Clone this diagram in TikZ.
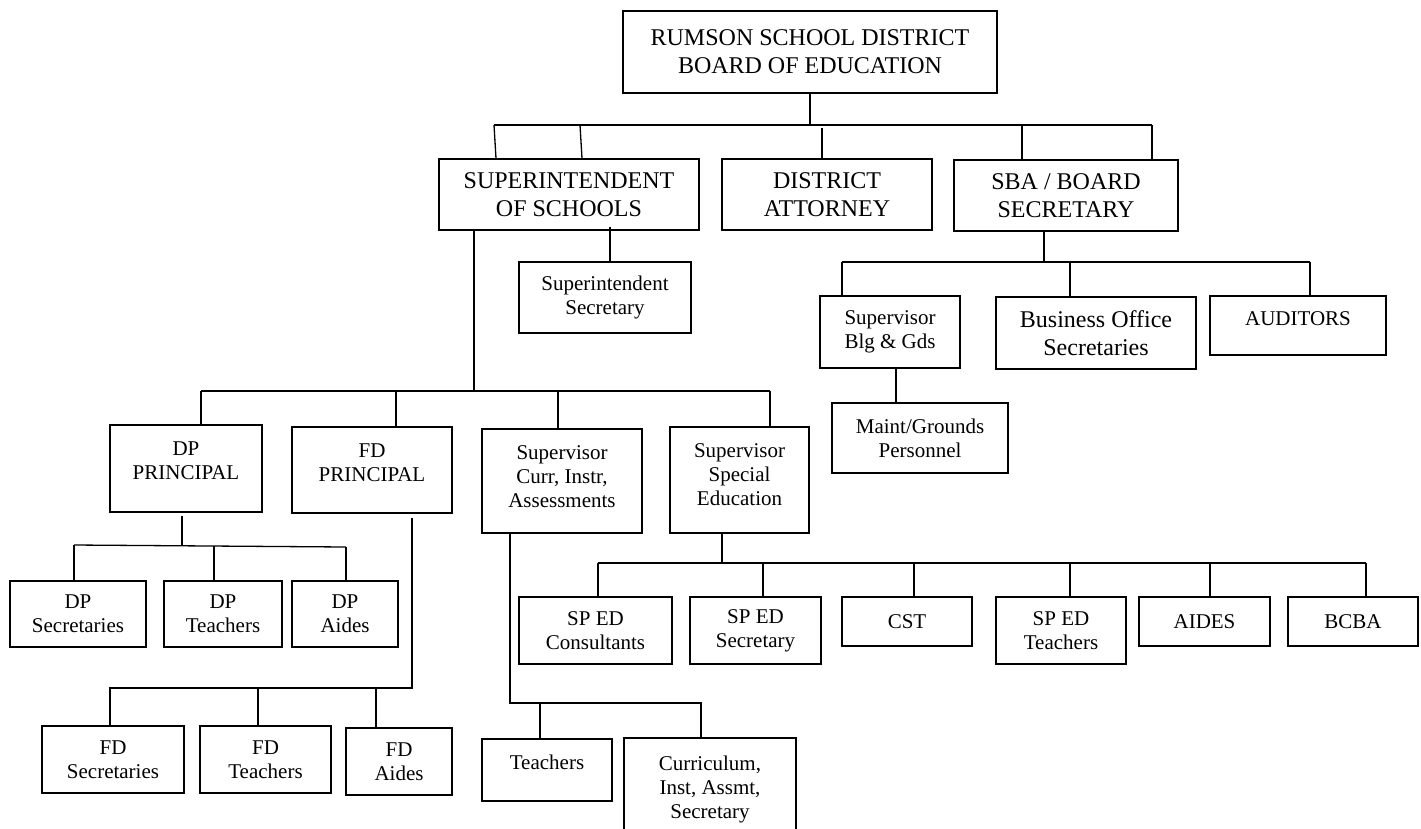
\documentclass[tikz,border=0pt]{standalone}
\usepackage{fontspec}
\setmainfont{Liberation Serif}
\begin{document}
\begin{tikzpicture}[x=1pt,y=-1pt,
  box/.style={draw, line width=1.4pt, inner sep=0pt, align=center},
  big/.style={font=\fontsize{24}{28}\selectfont},
  sm/.style={font=\fontsize{21}{24}\selectfont},
  lbl/.style={align=center, inner sep=0pt},
  link/.style={line width=1.3pt}]
\clip (0,0) rectangle (1421,828);
\fill[white] (0,0) rectangle (1421,828);

% ---------- boxes ----------
\node[box,big,minimum width=374pt,minimum height=82pt] (board) at (810,52) {RUMSON SCHOOL DISTRICT\\BOARD OF EDUCATION};
\node[box,big,minimum width=260pt,minimum height=71pt] (supt) at (569,194.5) {SUPERINTENDENT\\OF SCHOOLS};
\node[box,big,minimum width=210pt,minimum height=71pt] (atty) at (827,194.5) {DISTRICT\\ATTORNEY};
\node[box,big,minimum width=224pt,minimum height=71pt] (sba) at (1066,195.5) {SBA / BOARD\\SECRETARY};
\node[box,sm,minimum width=172pt,minimum height=71pt] (ssec) at (605,297.5) {Superintendent\\Secretary};
\node[box,sm,minimum width=140pt,minimum height=72pt] (blg) at (890,332) {Supervisor\\Blg \& Gds};
\node[box,big,minimum width=200pt,minimum height=72pt] (bus) at (1096,333) {Business Office\\Secretaries};
\node[box,minimum width=176pt,minimum height=59pt,label={[lbl,sm,yshift=6.5pt]center:AUDITORS}] (aud) at (1298,325.5) {};
\node[box,sm,minimum width=176pt,minimum height=70pt] (maint) at (920,438) {Maint/Grounds\\Personnel};
\node[box,minimum width=152pt,minimum height=87pt,label={[lbl,sm,yshift=7.5pt]center:{DP\\PRINCIPAL}}] (dpp) at (186,468.5) {};
\node[box,minimum width=160pt,minimum height=86pt,label={[lbl,sm,yshift=7.5pt]center:{FD\\PRINCIPAL}}] (fdp) at (372,470) {};
\node[box,minimum width=160pt,minimum height=104pt,label={[lbl,sm,yshift=4.5pt]center:{Supervisor\\Curr, Instr,\\Assessments}}] (curr) at (562,481) {};
\node[box,minimum width=139pt,minimum height=106pt,label={[lbl,sm,yshift=5.5pt]center:{Supervisor\\Special\\Education}}] (spec) at (739.5,480) {};
\node[box,sm,minimum width=136pt,minimum height=66pt] (dpsec) at (78,614) {DP\\Secretaries};
\node[box,sm,minimum width=118pt,minimum height=66pt] (dptea) at (223,614) {DP\\Teachers};
\node[box,sm,minimum width=106pt,minimum height=66pt] (dpaid) at (345,614) {DP\\Aides};
\node[box,sm,minimum width=142pt,minimum height=67pt] (fdsec) at (113,759.5) {FD\\Secretaries};
\node[box,sm,minimum width=131pt,minimum height=67pt] (fdtea) at (265.5,759.5) {FD\\Teachers};
\node[box,sm,minimum width=106pt,minimum height=67pt] (fdaid) at (399,761.5) {FD\\Aides};
\node[box,minimum width=130pt,minimum height=62pt,label={[lbl,sm,yshift=7.5pt]center:Teachers}] (tea) at (547,770) {};
\node[box,sm,minimum width=172pt,minimum height=103pt] (cias) at (710,789.5) {Curriculum,\\Inst, Assmt,\\Secretary};
\node[box,sm,minimum width=153pt,minimum height=67pt] (spcon) at (595.5,630.5) {SP ED\\Consultants};
\node[box,sm,minimum width=131pt,minimum height=67pt] (spsec) at (755.5,630.5) {SP ED\\Secretary};
\node[box,sm,minimum width=130pt,minimum height=49pt] (cst) at (907,621.5) {CST};
\node[box,sm,minimum width=130pt,minimum height=67pt] (sptea) at (1061,630.5) {SP ED\\Teachers};
\node[box,sm,minimum width=131pt,minimum height=49pt] (aides) at (1204.5,621.5) {AIDES};
\node[box,sm,minimum width=130pt,minimum height=49pt] (bcba) at (1353,621.5) {BCBA};

% ---------- board level ----------
\coordinate (j1) at (810,125);
\coordinate (j1L) at (494,125);
\coordinate (j1R) at (1152,125);
\coordinate (d1) at (580,125);
\coordinate (d2) at (822,128);
\coordinate (d3) at (1022,125);
\draw[link] (board.south) -- (j1);
\draw[link] (j1L) -- (j1R);
\draw[link] (j1L) -- ([xshift=2pt]j1L |- supt.north);
\draw[link] (d1) -- ([xshift=2pt]d1 |- supt.north);
\draw[link] (d2) -- (d2 |- atty.north);
\draw[link] (d3) -- (d3 |- sba.north);
\draw[link] (j1R) -- (j1R |- sba.north);

% ---------- superintendent ----------
\coordinate (j2) at (474,391);
\coordinate (j2L) at (201,391);
\coordinate (j2R) at (770,391);
\coordinate (e1) at (396,391);
\coordinate (e2) at (558,391);
\coordinate (k1) at (610,227);
\draw[link] (j2 |- supt.south) -- (j2);
\draw[link] (j2L) -- (j2R);
\draw[link] (j2L) -- (j2L |- dpp.north);
\draw[link] (e1) -- (e1 |- fdp.north);
\draw[link] (e2) -- (e2 |- curr.north);
\draw[link] (j2R) -- (j2R |- spec.north);
\draw[link] (k1) -- (k1 |- ssec.north);

% ---------- SBA ----------
\coordinate (j3) at (1044,263);
\coordinate (j3L) at (842,262);
\coordinate (j3R) at (1310,262);
\coordinate (f1) at (1070,262);
\coordinate (k2) at (896,400);
\draw[link] (j3 |- sba.south) -- (j3);
\draw[link] (j3L) -- (j3R);
\draw[link] (j3L) -- (j3L |- blg.north);
\draw[link] (f1) -- (f1 |- bus.north);
\draw[link] (j3R) -- (j3R |- aud.north);
\draw[link] (k2 |- blg.south) -- (k2 |- maint.north);

% ---------- DP ----------
\coordinate (j5) at (182,546);
\coordinate (j5L) at (74,545);
\coordinate (j5R) at (346,547);
\coordinate (g1) at (214,546);
\draw[link] ([yshift=-3pt]j5 |- dpp.south) -- (j5);
\draw[link] (j5L) -- (j5R);
\draw[link] (j5L) -- (j5L |- dpsec.north);
\draw[link] (g1) -- (g1 |- dptea.north);
\draw[link] (j5R) -- (j5R |- dpaid.north);

% ---------- FD ----------
\coordinate (j6) at (412,688);
\coordinate (j6L) at (110,688);
\coordinate (h1) at (258,688);
\coordinate (h2) at (376,688);
\draw[link] ([yshift=-4pt]j6 |- fdp.south) -- (j6) -- (j6L) -- (j6L |- fdsec.north);
\draw[link] (h1) -- (h1 |- fdtea.north);
\draw[link] (h2) -- (h2 |- fdaid.north);

% ---------- Curriculum ----------
\coordinate (j7) at (510,703);
\coordinate (j7R) at (701,703);
\coordinate (m1) at (540,703);
\draw[link] (j7 |- curr.south) -- (j7) -- (j7R) -- (j7R |- cias.north);
\draw[link] (m1) -- (m1 |- tea.north);

% ---------- Special Education ----------
\coordinate (j8) at (722,563);
\coordinate (j8L) at (598,563);
\coordinate (j8R) at (1366,563);
\coordinate (n1) at (763,563);
\coordinate (n2) at (914,563);
\coordinate (n3) at (1070,563);
\coordinate (n4) at (1210,563);
\draw[link] (j8 |- spec.south) -- (j8);
\draw[link] (j8L) -- (j8R);
\draw[link] (j8L) -- (j8L |- spcon.north);
\draw[link] (n1) -- (n1 |- spsec.north);
\draw[link] (n2) -- (n2 |- cst.north);
\draw[link] (n3) -- (n3 |- sptea.north);
\draw[link] (n4) -- (n4 |- aides.north);
\draw[link] (j8R) -- (j8R |- bcba.north);
\end{tikzpicture}
\end{document}
